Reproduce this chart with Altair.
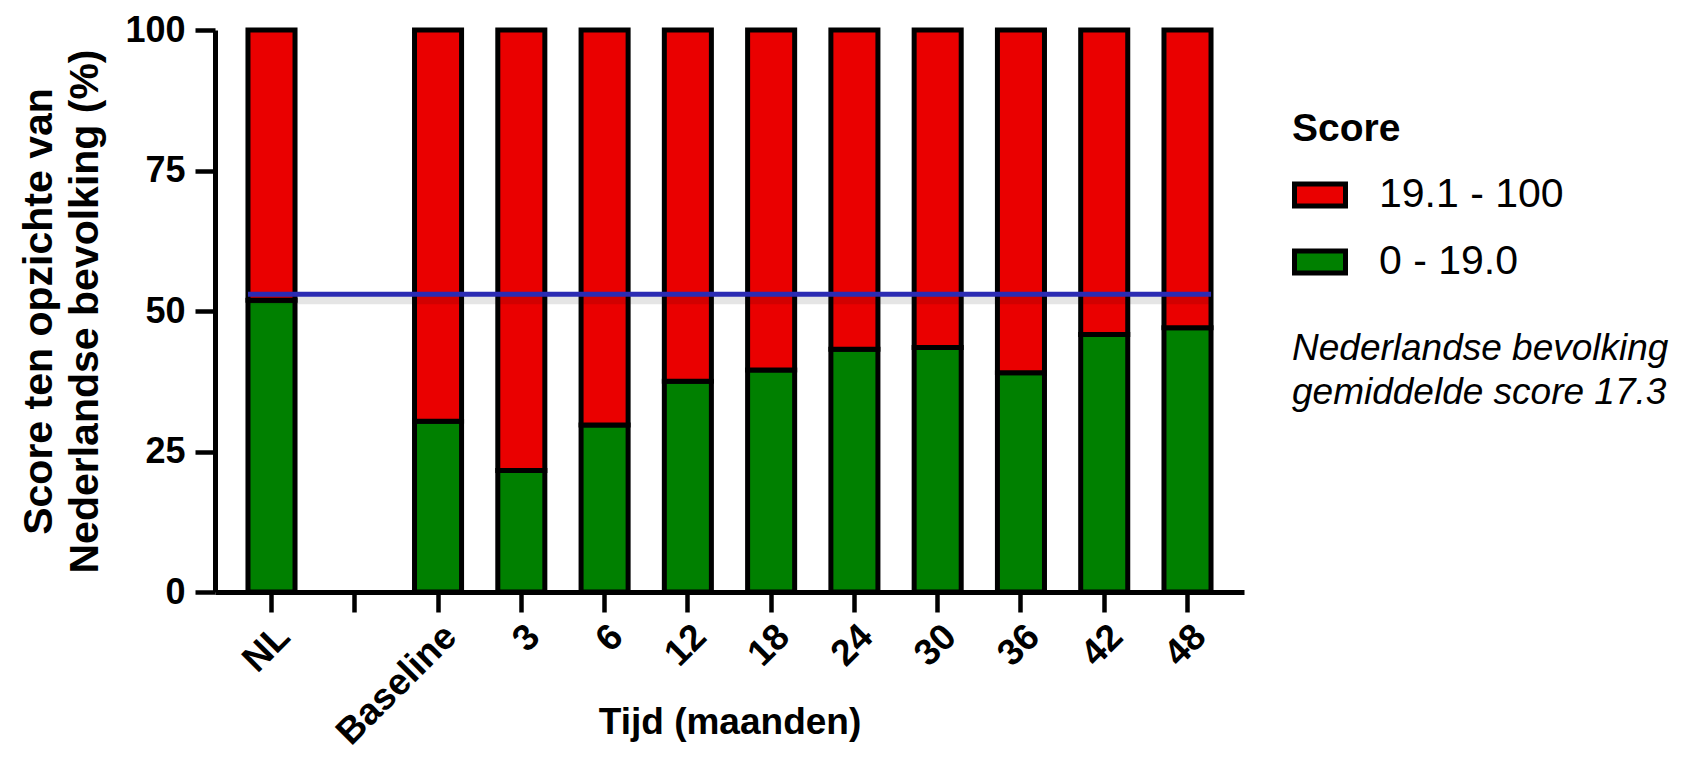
import altair as alt
import pandas as pd

categories = ["NL", "gap", "Baseline", "3", "6", "12", "18", "24", "30", "36", "42", "48"]
green_pct = [51.9, None, 30.4, 21.6, 29.7, 37.5, 39.5, 43.2, 43.5, 39.0, 45.8, 47.0]
groups = ["19.1 - 100", "0 - 19.0"]
nl_mean_line = 53.0
annotation = ["Nederlandse bevolking", "gemiddelde score 17.3"]

RED = "#ea0000"
GREEN = "#008000"
BLUE = "#2b2bb3"
FONT = "Liberation Sans"

rows = []
for c, g in zip(categories, green_pct):
    if g is None:
        continue
    rows.append({"cat": c, "group": "0 - 19.0", "pct": g, "ord": 0})
    rows.append({"cat": c, "group": "19.1 - 100", "pct": 100 - g, "ord": 1})
df = pd.DataFrame(rows)

xscale = alt.Scale(domain=categories, paddingInner=0.435, paddingOuter=0.396)

bars = alt.Chart(df).mark_bar(stroke="black", strokeWidth=5).encode(
    x=alt.X(
        "cat:N",
        scale=xscale,
        sort=categories,
        axis=alt.Axis(
            title="Tijd (maanden)",
            labelExpr="datum.value == 'gap' ? '' : datum.value",
            labelAngle=-45,
            labelAlign="right",
            labelBaseline="top",
            labelPadding=6,
            tickSize=20,
            labelFontSize=37,
            labelFontWeight="bold",
            titleFontSize=37,
            titleFontWeight="bold",
            titleBaseline="alphabetic",
            titleY=141,
        ),
    ),
    y=alt.Y(
        "pct:Q",
        stack="zero",
        scale=alt.Scale(domain=[0, 100], nice=False),
        axis=alt.Axis(
            title=["Score ten opzichte van", "Nederlandse bevolking (%)"],
            values=[0, 25, 50, 75, 100],
            tickSize=20,
            labelPadding=10,
            labelFontSize=36,
            labelFontWeight="bold",
            titleFontSize=41,
            titleFontWeight="bold",
            titleLineHeight=46,
            titlePadding=18,
        ),
    ),
    color=alt.Color(
        "group:N",
        scale=alt.Scale(domain=groups, range=[RED, GREEN]),
        legend=alt.Legend(
            title="Score",
            orient="none",
            legendX=1077,
            legendY=80,
            symbolType="M-1,-0.43H1V0.43H-1Z",
            symbolSize=2601,
            symbolStrokeColor="black",
            symbolStrokeWidth=5,
            symbolOpacity=1,
            titleFontSize=39,
            titleFontWeight="bold",
            titlePadding=18,
            labelFontSize=41,
            labelOffset=31,
            labelLimit=0,
            rowPadding=18,
        ),
    ),
    order=alt.Order("ord:Q"),
)

line_df = pd.DataFrame({"start": ["NL"], "end": ["48"], "y": [nl_mean_line]})
shadow = alt.Chart(line_df).mark_rule(color="black", opacity=0.1, strokeWidth=8, yOffset=6).encode(
    x=alt.X("start:N", bandPosition=0, scale=xscale),
    x2=alt.X2("end", bandPosition=1),
    y="y:Q",
)
rule = alt.Chart(line_df).mark_rule(color=BLUE, strokeWidth=5).encode(
    x=alt.X("start:N", bandPosition=0, scale=xscale),
    x2=alt.X2("end", bandPosition=1),
    y="y:Q",
)

ann_df = pd.DataFrame({"t": annotation})
ann1 = alt.Chart(ann_df.iloc[[0]]).mark_text(
    align="left", baseline="alphabetic", fontSize=37, fontStyle="italic", font=FONT, color="black"
).encode(x=alt.value(1077), y=alt.value(330), text="t:N")
ann2 = alt.Chart(ann_df.iloc[[1]]).mark_text(
    align="left", baseline="alphabetic", fontSize=37, fontStyle="italic", font=FONT, color="black"
).encode(x=alt.value(1077), y=alt.value(374), text="t:N")

chart = (
    alt.layer(bars, shadow, rule, ann1, ann2)
    .properties(
        width=1029,
        height=562,
        autosize=alt.AutoSizeParams(type="none"),
        padding={"left": 207, "top": 22, "right": 432, "bottom": 161},
    )
    .configure_view(stroke=None)
    .configure_axis(
        domainColor="black",
        domainWidth=5,
        tickColor="black",
        tickWidth=4.5,
        labelColor="black",
        titleColor="black",
        grid=False,
        labelFont=FONT,
        titleFont=FONT,
    )
    .configure_legend(labelFont=FONT, titleFont=FONT, labelColor="black", titleColor="black")
)

chart.save("out.html", embed_options={"renderer": "svg", "actions": False})
